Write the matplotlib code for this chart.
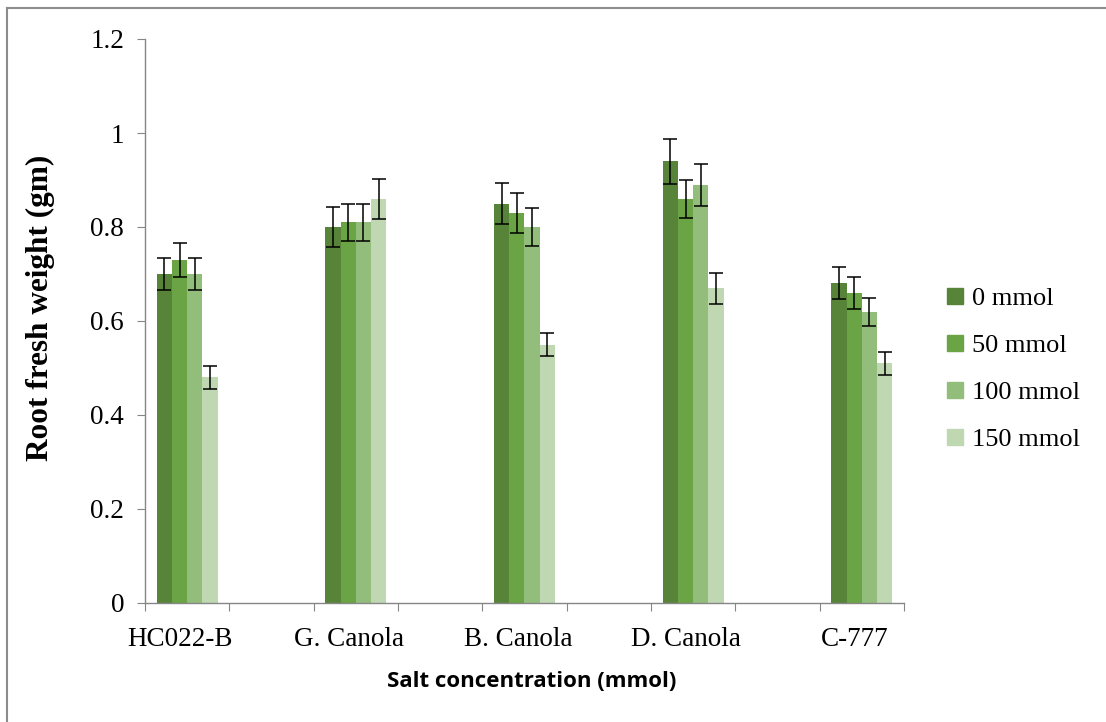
import numpy as np
import matplotlib
matplotlib.use("Agg")
import matplotlib.pyplot as plt
from matplotlib.lines import Line2D

# data
cultivars = ["HC022-B", "G. Canola", "B. Canola", "D. Canola", "C-777"]
series = ["0 mmol", "50 mmol", "100 mmol", "150 mmol"]
mmol_0 = [0.70, 0.80, 0.85, 0.94, 0.68]
mmol_50 = [0.73, 0.81, 0.83, 0.86, 0.66]
mmol_100 = [0.70, 0.81, 0.80, 0.89, 0.62]
mmol_150 = [0.48, 0.86, 0.55, 0.67, 0.51]
err_0 = [0.035, 0.042, 0.043, 0.048, 0.034]
err_50 = [0.036, 0.039, 0.042, 0.041, 0.034]
err_100 = [0.035, 0.039, 0.040, 0.045, 0.030]
err_150 = [0.025, 0.042, 0.025, 0.033, 0.025]

colors = ["#578438", "#6aa444", "#93bd7a", "#bfd8b1"]
values = [mmol_0, mmol_50, mmol_100, mmol_150]
errors = [err_0, err_50, err_100, err_150]

serif = ["Liberation Serif", "DejaVu Serif"]

fig = plt.figure(figsize=(11.06, 7.22), dpi=100)
ax = fig.add_axes([145 / 1106, 1 - 603 / 722, (904 - 145) / 1106, (603 - 39) / 722])

# Excel layout: a blank category slot between each cultivar
pos = np.arange(len(cultivars)) * 2
w = 0.181
for k in range(4):
    x = pos + (k - 1.5) * w
    ax.bar(x, values[k], w, color=colors[k], label=series[k], zorder=2)
    ax.errorbar(x, values[k], yerr=errors[k], fmt="none", ecolor="black",
                elinewidth=1.1, capsize=5, capthick=1.1, zorder=3)

ax.set_xlim(-0.5, 8.5)
ax.set_ylim(0, 1.2)
ax.set_yticks(np.arange(0, 1.21, 0.2))
ax.set_yticklabels(["0", "0.2", "0.4", "0.6", "0.8", "1", "1.2"])
ax.set_xticks(np.arange(-0.5, 8.6, 1.0))
ax.set_xticklabels([])
ax.set_xticks(pos - 0.08, minor=True)
ax.set_xticklabels(cultivars, minor=True)
ax.tick_params(axis="x", which="minor", length=0, pad=17)
ax.tick_params(axis="x", which="major", length=6, color="#868686", direction="out")
ax.tick_params(axis="y", length=6, color="#868686", direction="out", pad=9)
for lab in ax.get_xticklabels(minor=True) + ax.get_yticklabels():
    lab.set_family(serif)
    lab.set_fontsize(19.5)

for s in ["top", "right"]:
    ax.spines[s].set_visible(False)
for s in ["left", "bottom"]:
    ax.spines[s].set_color("#868686")
    ax.spines[s].set_linewidth(1)

ax.set_ylabel("Root fresh weight (gm)", family=serif, fontsize=22.5,
              fontweight="bold")
ax.yaxis.set_label_coords(-0.118, 0.523)
ax.set_xlabel("Salt concentration (mmol)", family=["Open Sans", "DejaVu Sans"],
              fontsize=16, fontweight="bold")
ax.xaxis.set_label_coords(0.51, -0.12)

handles = [Line2D([], [], marker="s", linestyle="none", markersize=11,
                  markerfacecolor=c, markeredgecolor=c) for c in colors]
ax.legend(handles, series, loc="center left", bbox_to_anchor=(1.018, 0.415),
          frameon=False, prop={"family": serif, "size": 19},
          handletextpad=0.15, labelspacing=0.89, handlelength=1.0)

# partial frame of the exported picture (top and left edges only)
fig.add_artist(Line2D([7 / 1106, 7 / 1106], [0, 1 - 8 / 722], color="#8c8c8c", lw=1.5))
fig.add_artist(Line2D([7 / 1106, 1], [1 - 8 / 722, 1 - 8 / 722], color="#8c8c8c", lw=1.5))

fig.savefig("out.png", dpi=100, facecolor="white")
